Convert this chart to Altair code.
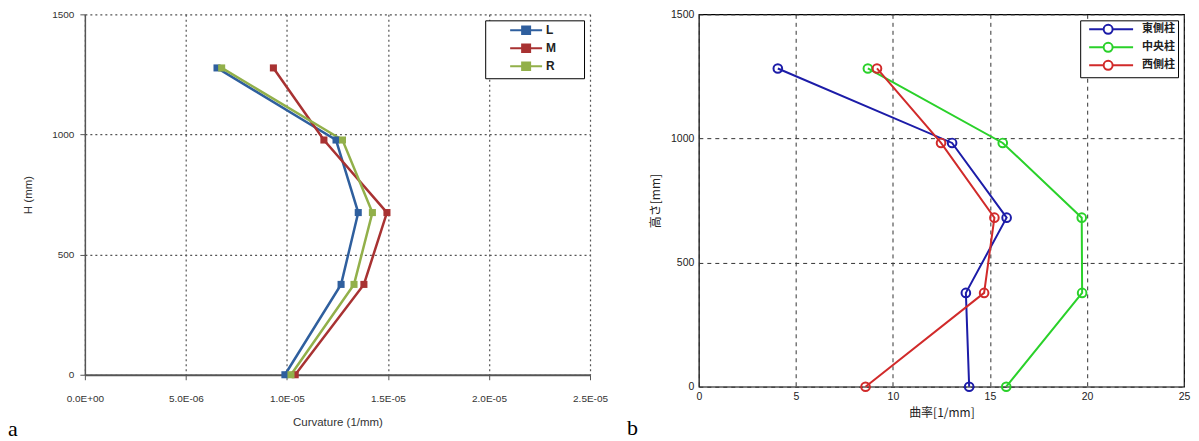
import altair as alt
import pandas as pd

# ---------------- Panel a (Excel style) ----------------
a_series = ["L", "M", "R"]
a_heights = [0, 376, 675, 977, 1277]
a_L = [9.90e-6, 1.268e-5, 1.353e-5, 1.243e-5, 6.54e-6]
a_M = [1.041e-5, 1.381e-5, 1.495e-5, 1.183e-5, 9.33e-6]
a_R = [1.020e-5, 1.332e-5, 1.423e-5, 1.275e-5, 6.77e-6]
a_colors = ["#2f5f9e", "#a83232", "#92b04a"]
a_xticks = [0, 5e-6, 1e-5, 1.5e-5, 2e-5, 2.5e-5]
a_yticks = [0, 500, 1000, 1500]

# ---------------- Panel b (MATLAB style) ----------------
b_series = ["東側柱", "中央柱", "西側柱"]
b_heights = [0, 378, 681, 982, 1282]
b_east = [13.93, 13.76, 15.86, 13.05, 4.07]
b_center = [15.84, 19.75, 19.73, 15.66, 8.71]
b_west = [8.59, 14.70, 15.23, 12.48, 9.18]
b_colors = ["#1c1ca8", "#2ad12a", "#d12a2a"]
b_xticks = [0, 5, 10, 15, 20, 25]
b_yticks = [0, 500, 1000, 1500]

panel_tags = ["a", "b"]

rows_a = []
for s, vals in zip(a_series, [a_L, a_M, a_R]):
    for i, (h, v) in enumerate(zip(a_heights, vals)):
        rows_a.append({"series": s, "curv": v, "h": h, "idx": i})
df_a = pd.DataFrame(rows_a)

rows_b = []
for s, vals in zip(b_series, [b_east, b_center, b_west]):
    for i, (h, v) in enumerate(zip(b_heights, vals)):
        rows_b.append({"col": s, "curv": v, "h": h, "idx": i})
df_b = pd.DataFrame(rows_b)

# legend symbols: line with marker, drawn to the right of the symbol slot
sym_a = ("M3.0,0L9.4,0"
         "M5.4,-0.75L7.0,-0.75L7.0,0.75L5.4,0.75Z"
         "M5.85,-0.3L6.55,-0.3L6.55,0.3L5.85,0.3Z"
         "M16.2,0L16.2,0")
sym_b = ("M0,0L2.9,0M4.7,0L8.8,0"
         "M4.7,0A0.9,0.9 0 1,1 2.9,0A0.9,0.9 0 1,1 4.7,0")

a_lines = alt.Chart(df_a).mark_line(
    strokeWidth=2.5,
    point=alt.OverlayMarkDef(shape="square", filled=True, size=50, opacity=1),
).encode(
    x=alt.X("curv:Q",
            scale=alt.Scale(domain=[0, 2.5e-5], nice=False, zero=True),
            axis=alt.Axis(values=a_xticks, title="Curvature (1/mm)",
                          labelExpr="replace(replace(format(datum.value,'.1e'),'e-','E-0'),'e+','E+0')",
                          labelFont="Liberation Sans", labelFontSize=10, labelColor="#333",
                          titleFont="Liberation Sans", titleFontSize=11.5, titleFontWeight="normal",
                          titleColor="#333", labelFlush=False, labelPadding=14, titlePadding=13,
                          tickSize=5, tickColor="#555", domainColor="#555", domainWidth=2,
                          grid=True, gridDash=[2, 3], gridColor="#555", gridWidth=1.2)),
    y=alt.Y("h:Q",
            scale=alt.Scale(domain=[0, 1500], nice=False),
            axis=alt.Axis(values=a_yticks, title="H (mm)", format="d",
                          labelFont="Liberation Sans", labelFontSize=10, labelColor="#333",
                          titleFont="Liberation Sans", titleFontSize=11.5, titleFontWeight="normal",
                          titleColor="#333", labelPadding=6, titlePadding=18,
                          tickSize=5, tickColor="#555", domainColor="#555", domainWidth=1.5,
                          grid=True, gridDash=[2, 3], gridColor="#555", gridWidth=1.2)),
    color=alt.Color("series:N",
                    scale=alt.Scale(domain=a_series, range=a_colors),
                    legend=alt.Legend(title=None, orient="top-right", offset=6,
                                      strokeColor="black", fillColor="white", padding=4,
                                      symbolType=sym_a, symbolSize=100, symbolStrokeWidth=2,
                                      labelOffset=45, labelFont="Liberation Sans",
                                      labelFontSize=12, labelFontWeight="bold",
                                      labelColor="#222", rowPadding=2)),
    order=alt.Order("idx:Q"),
)

a_tag = alt.Chart(pd.DataFrame({"tag": [panel_tags[0]]})).mark_text(
    align="left", baseline="alphabetic", font="Liberation Serif", fontSize=22, color="black"
).encode(text="tag:N", x=alt.value(-77), y=alt.value(422))

left = alt.layer(a_lines, a_tag).properties(width=506, height=361)

b_lines = alt.Chart(df_b).mark_line(
    strokeWidth=2,
    point=alt.OverlayMarkDef(shape="circle", filled=False, size=75, strokeWidth=2),
).encode(
    x=alt.X("curv:Q",
            scale=alt.Scale(domain=[0, 25], nice=False),
            axis=alt.Axis(values=b_xticks, title="曲率[1/mm]",
                          labelFont="Liberation Sans", labelFontSize=10.5, labelColor="#222",
                          titleFont="Noto Sans CJK JP", titleFontSize=12, titleFontWeight="normal",
                          titleColor="#222", labelFlush=False, labelPadding=5, titlePadding=5,
                          ticks=False, domain=False,
                          grid=True, gridDash=[4, 4], gridColor="#333", gridWidth=1)),
    y=alt.Y("h:Q",
            scale=alt.Scale(domain=[0, 1500], nice=False),
            axis=alt.Axis(values=b_yticks, title="高さ[mm]", format="d",
                          labelFont="Liberation Sans", labelFontSize=10.5, labelColor="#222",
                          titleFont="Noto Sans CJK JP", titleFontSize=12, titleFontWeight="normal",
                          titleColor="#222", labelPadding=5, titlePadding=8,
                          ticks=False, domain=False,
                          grid=True, gridDash=[4, 4], gridColor="#333", gridWidth=1)),
    color=alt.Color("col:N",
                    scale=alt.Scale(domain=b_series, range=b_colors),
                    legend=alt.Legend(title=None, orient="top-right", offset=6,
                                      strokeColor="black", fillColor="white", padding=3,
                                      symbolType=sym_b, symbolSize=100, symbolStrokeWidth=2,
                                      labelOffset=47, labelFont="Noto Sans CJK JP",
                                      labelFontSize=11, labelFontWeight="bold",
                                      labelColor="#222", rowPadding=0)),
    order=alt.Order("idx:Q"),
)

b_tag = alt.Chart(pd.DataFrame({"tag": [panel_tags[1]]})).mark_text(
    align="left", baseline="alphabetic", font="Liberation Serif", fontSize=22, color="black"
).encode(text="tag:N", x=alt.value(-72), y=alt.value(421))

right = alt.layer(b_lines, b_tag).properties(
    width=486, height=373,
    view=alt.ViewBackground(stroke="black", strokeWidth=1.2),
)

chart = alt.hconcat(left, right, spacing=18).resolve_scale(
    color="independent"
).resolve_legend(color="independent").properties(
    padding=0, background="white"
).configure_view(strokeWidth=0)

chart.save("out.html", embed_options={"renderer": "svg", "actions": False})
